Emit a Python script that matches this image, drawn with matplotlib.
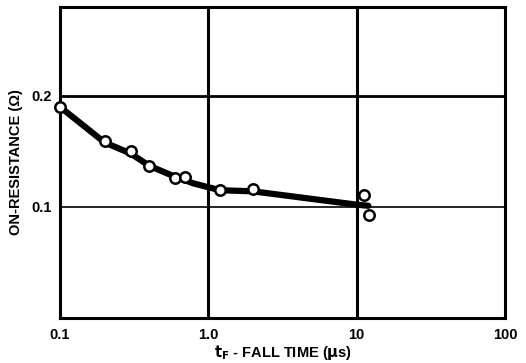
import matplotlib.pyplot as plt

plt.rcParams['font.family'] = ['Liberation Sans', 'DejaVu Sans']

# measured points (open circles)
fall_time = [0.1, 0.2, 0.3, 0.4, 0.6, 0.7, 1.2, 2.0, 11.2, 12.2]
on_res = [0.190, 0.159, 0.150, 0.137, 0.126, 0.127, 0.115, 0.116, 0.111, 0.093]

# fitted curve
curve_t = [0.1, 0.2, 0.3, 0.4, 0.6, 0.8, 1.2, 2.0, 10.0, 12.0]
curve_r = [0.190, 0.158, 0.148, 0.137, 0.127, 0.121, 0.115, 0.114, 0.102, 0.101]

x_ticks = [0.1, 1.0, 10, 100]
x_labels = ['0.1', '1.0', '10', '100']
y_ticks = [0.1, 0.2]
y_labels = ['0.1', '0.2']

fig = plt.figure(figsize=(5.26, 3.63), dpi=100)
ax = fig.add_axes([0.114, 0.124, 0.846, 0.857])

ax.set_xscale('log')
ax.set_xlim(0.1, 100)
ax.set_ylim(0, 0.28)

# grid lines
for xv in [1.0, 10]:
    ax.axvline(xv, color='black', lw=2.2, zorder=1)
ax.axhline(0.2, color='black', lw=2.0, zorder=1)
ax.axhline(0.1, color='black', lw=1.2, zorder=1)

ax.plot(curve_t, curve_r, color='black', lw=4.5, solid_capstyle='round', zorder=2)
ax.plot(fall_time, on_res, 'o', ms=7.5, mfc='white', mec='black', mew=1.8,
        zorder=3, clip_on=False)

ax.set_xticks(x_ticks)
ax.set_xticklabels(x_labels)
ax.set_xticks([], minor=True)
ax.set_yticks(y_ticks)
ax.set_yticklabels(y_labels)
ax.tick_params(length=0, labelsize=10.5)
ax.tick_params(axis='x', pad=7)
ax.tick_params(axis='y', pad=6)
for lbl in ax.get_xticklabels() + ax.get_yticklabels():
    lbl.set_fontweight('bold')

for sp in ax.spines.values():
    sp.set_linewidth(2.2)

ax.set_xlabel(r'$\mathbf{t_F}$ - FALL TIME ($\mathbf{\mu}$s)', fontsize=10.5,
              fontweight='bold', labelpad=1)
ax.set_ylabel('ON-RESISTANCE (Ω)', fontsize=10.5, fontweight='bold', labelpad=6)

fig.savefig('out.png', dpi=100, facecolor='white')
